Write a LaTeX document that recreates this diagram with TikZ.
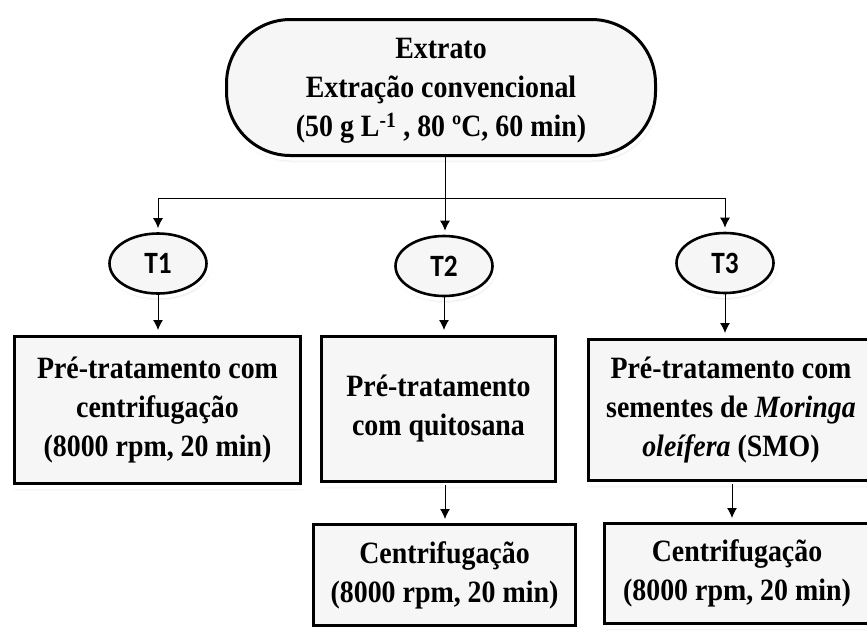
\documentclass[tikz,border=0pt]{standalone}
\usepackage{fontspec}
\setmainfont{Liberation Serif}[FakeStretch=0.9]
\newfontfamily\labelfont{Carlito}[FakeStretch=0.88]
\usetikzlibrary{shapes.geometric, arrows.meta, shadows.blur}

\begin{document}
\begin{tikzpicture}[x=1pt, y=-1pt,
  soft/.style={blur shadow={shadow xshift=1pt, shadow yshift=-3pt,
      shadow blur radius=4pt, shadow opacity=35}},
  halo/.style={preaction={draw=white, line width=10pt}},
  boxtext/.style={font=\bfseries\fontsize{31}{39}\selectfont, align=center},
  topbox/.style={soft, halo, draw, line width=3pt, fill=gray!7,
      rounded corners=64pt, inner sep=0pt},
  procbox/.style={soft, halo, draw, line width=3pt, fill=gray!7,
      rectangle, inner sep=0pt, boxtext},
  tnode/.style={soft, halo, draw, ellipse, line width=2.6pt, fill=gray!7,
      inner sep=0pt, minimum width=97pt, minimum height=60pt,
      font=\labelfont\bfseries\fontsize{31}{32}\selectfont},
  conn/.style={line width=1pt},
  arrow/.style={conn, -{Latex[length=10pt, width=10pt]}}
]
\useasboundingbox (0,0) rectangle (867,630);

% starting extract: rounded frame and its three lines of text
\node[topbox, minimum width=429pt, minimum height=136pt] (ext) at (441,87.5) {};
\node[boxtext, inner sep=0pt] (exttext) at ([yshift=-3pt]ext.center)
  {Extrato\\Extração convencional\\(50 g L\textsuperscript{-1} , 80 ºC, 60 min)};

% treatments
\node[tnode] (t1) at (158,263.5) {T1};
\node[tnode] (t2) at (444,266) {T2};
\node[tnode] (t3) at (725,263) {T3};

% pre-treatment boxes
\node[procbox, minimum width=286pt, minimum height=147pt] (b1) at (157.5,410)
  {Pré-tratamento com\\centrifugação\\(8000 rpm, 20 min)};
\node[procbox, minimum width=234pt, minimum height=145pt] (b2) at (438.5,409)
  {Pré-tratamento\\com quitosana};
\node[procbox, minimum width=285pt, minimum height=141pt] (b3) at (731,410)
  {Pré-tratamento com\\sementes de \textit{Moringa}\\\textit{oleífera} (SMO)};

% centrifugation boxes
\node[procbox, minimum width=262pt, minimum height=101pt] (b4) at (444.5,575)
  {Centrifugação\\(8000 rpm, 20 min)};
\node[procbox, minimum width=265pt, minimum height=100pt] (b5) at (737,573.5)
  {Centrifugação\\(8000 rpm, 20 min)};

% connectors
\coordinate (split) at (445,198);
\draw[arrow, shorten >=4pt] (ext.south -| split) -- (split |- t2.north);
\draw[conn] (t1.north |- split) -- (t3.north |- split);
\draw[arrow, shorten >=4pt] (t1.north |- split) -- (t1.north);
\draw[arrow, shorten >=4pt] (t3.north |- split) -- (t3.north);

\draw[arrow, shorten >=5pt] (t1.south) -- (t1.south |- b1.north);
\draw[arrow, shorten >=5pt] (t2.south) -- (t2.south |- b2.north);
\draw[arrow, shorten >=5pt] (t3.south) -- (t3.south |- b3.north);

\draw[arrow, shorten <=2pt, shorten >=4pt] (b2.south -| split) -- (b4.north -| split);
\draw[arrow, shorten <=2pt, shorten >=4pt] ([xshift=1pt]b3.south) -- ([xshift=1pt]b3.south |- b5.north);
\end{tikzpicture}
\end{document}
